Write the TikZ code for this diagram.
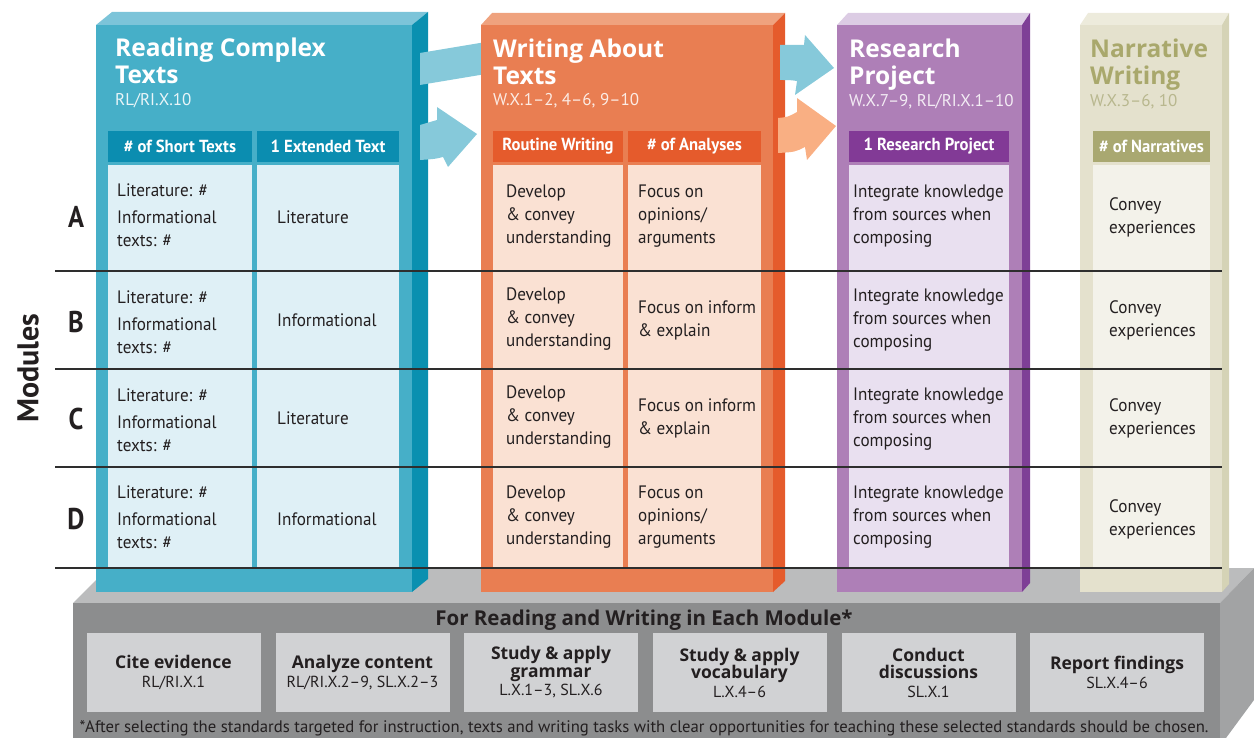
\documentclass[tikz,border=0pt]{standalone}
\usepackage{fontspec}
\setmainfont{PT Sans}
\newfontfamily\condf[FakeStretch=0.95]{PT Sans}
\newfontfamily\letf[FakeStretch=0.88]{PT Sans}
\newfontfamily\wide{Open Sans}
\definecolor{txt}{HTML}{231F20}
\definecolor{tealF}{HTML}{46AFC8}
\definecolor{tealT}{HTML}{7CC4D9}
\definecolor{tealS}{HTML}{0A90B0}
\definecolor{tealH}{HTML}{0B8DB0}
\definecolor{tealB}{HTML}{DFF0F6}
\definecolor{tealA}{HTML}{86C9DA}
\definecolor{orF}{HTML}{E97E52}
\definecolor{orT}{HTML}{EFA27E}
\definecolor{orS}{HTML}{E55B2C}
\definecolor{orH}{HTML}{E55B2C}
\definecolor{orB}{HTML}{FAE1D3}
\definecolor{orA}{HTML}{F9AF83}
\definecolor{puF}{HTML}{AE7FB7}
\definecolor{puT}{HTML}{DCCCE4}
\definecolor{puS}{HTML}{7E3F96}
\definecolor{puH}{HTML}{823A96}
\definecolor{puB}{HTML}{E9E0F0}
\definecolor{beF}{HTML}{E4E1CD}
\definecolor{beT}{HTML}{EDEBDC}
\definecolor{beS}{HTML}{D5D3B6}
\definecolor{beH}{HTML}{A9A871}
\definecolor{beB}{HTML}{F3F2EA}
\definecolor{beTx}{HTML}{A9A86C}
\definecolor{beSub}{HTML}{B8B78E}
\definecolor{baseT}{HTML}{BBBCBD}
\definecolor{baseF}{HTML}{8C8D8E}
\definecolor{baseS}{HTML}{A2A3A4}
\definecolor{boxg}{HTML}{D1D2D4}
\tikzset{
  hdr/.style={text=white, font=\condf\bfseries\fontsize{17.5}{20}\selectfont, inner sep=0pt, minimum height=31pt},
  cell/.style={anchor=west, align=left, text=txt, font=\condf\fontsize{18}{23}\selectfont, inner sep=0pt},
  ttl/.style={anchor=north west, align=left, font=\wide\bfseries\fontsize{24.5}{27}\selectfont, inner sep=0pt},
  subt/.style={anchor=west, font=\fontsize{17}{18}\selectfont, inner sep=0pt},
  rowl/.style={font=\letf\bfseries\fontsize{30}{30}\selectfont, text=txt, inner sep=0pt},
  sepline/.style={line width=1.6pt, draw=black!82},
  basebox/.style={fill=boxg, minimum width=174pt, minimum height=79pt, inner sep=0pt},
  boxt/.style={align=center, text=txt, inner sep=0pt, font=\wide\bfseries\fontsize{17.5}{17.5}\selectfont},
}
\newcommand\stdf{\normalfont\fontsize{16}{19}\selectfont}
\begin{document}
\begin{tikzpicture}[x=1pt,y=-1pt]
\useasboundingbox (0,0) rectangle (1254,738);
% ---------- base ----------
\fill[baseT] (73,603) -- (108,568) -- (1254,568) -- (1220,603) -- cycle;
\fill[baseF] (73,603) rectangle (1220,738);
\fill[baseS] (1220,603) -- (1254,568) -- (1254,700) -- (1226,738) -- (1220,738) -- cycle;
\node[font=\wide\bfseries\fontsize{20.5}{24}\selectfont, text=txt] (basettl) at (644,620) {For Reading and Writing in Each Module*};
\node[basebox] (b1) at (173.5,672.5) {};
\node[basebox] (b2) at (362.5,672.5) {};
\node[basebox] (b3) at (551,672.5) {};
\node[basebox] (b4) at (739.5,672.5) {};
\node[basebox] (b5) at (928.5,672.5) {};
\node[basebox] (b6) at (1117,672.5) {};
\node[boxt] (bt1) at (b1) {Cite evidence\\[1pt]\stdf RL/RI.X.1};
\node[boxt] (bt2) at (b2) {Analyze content\\[1pt]\stdf RL/RI.X.2–9, SL.X.2–3};
\node[boxt] (bt3) at (b3) {Study \& apply\\grammar\\[1pt]\stdf L.X.1–3, SL.X.6};
\node[boxt] (bt4) at (b4) {Study \& apply\\vocabulary\\[1pt]\stdf L.X.4–6};
\node[boxt] (bt5) at (b5) {Conduct\\discussions\\[1pt]\stdf SL.X.1};
\node[boxt] (bt6) at (b6) {Report findings\\[1pt]\stdf SL.X.4–6};
\node[font=\fontsize{16.7}{18}\selectfont, text=txt, inner sep=0pt] (foot) at (644,728) {*After selecting the standards targeted for instruction, texts and writing tasks with clear opportunities for teaching these selected standards should be chosen.};
% ---------- teal column ----------
\fill[tealT] (96,25) -- (112,12) -- (428,12) -- (412,25) -- cycle;
\fill[tealF] (96,25) rectangle (412,592);
\fill[tealS] (412,25) -- (428,12) -- (428,579) -- (412,592) -- cycle;
\node[hdr, fill=tealH, minimum width=144pt] (th1) at (180,146.5) {\# of Short Texts};
\node[hdr, fill=tealH, minimum width=142pt] (th2) at (328,146.5) {1 Extended Text};
\fill[tealB] (108,165) rectangle (252,567);
\fill[tealB] (257,165) rectangle (399,567);
\node[ttl, text=white] (tt) at (115,38) {Reading Complex\\Texts};
\node[subt, text=white!88!tealF] (ts) at (115,101) {RL/RI.X.10};
% teal arrows
\fill[tealA] (420,53) -- (486,42) -- (486,74) -- (420,85) -- cycle;
\fill[tealA] (420,125) .. controls (428,123) .. (437,120) -- (437,107) -- (477,134) -- (448,167) -- (443,157) .. controls (435,159) .. (420,160) -- cycle;
% ---------- orange column ----------
\fill[orT] (481,25) -- (492,13) -- (785,13) -- (773,25) -- cycle;
\fill[orF] (481,25) rectangle (773,592);
\fill[orS] (773,25) -- (785,13) -- (785,581) -- (773,592) -- cycle;
\node[hdr, fill=orH, minimum width=130pt] (oh1) at (558,146.5) {Routine Writing};
\node[hdr, fill=orH, minimum width=133pt] (oh2) at (694.5,146.5) {\# of Analyses};
\fill[orB] (493,165) rectangle (623,567);
\fill[orB] (628,165) rectangle (761,567);
\node[ttl, text=white] (ot) at (493,39) {Writing About\\Texts};
\node[subt, text=white!85!orF] (os) at (493,101) {W.X.1–2, 4–6, 9–10};
% arrows to purple
\fill[tealA] (780,45) -- (804,45) -- (805,35) -- (834,68) -- (795,95) -- (797,81) .. controls (790,80) .. (780,80) -- cycle;
\fill[orA] (778,118) .. controls (788,117) .. (797,112) -- (797,98) -- (836,126) -- (807,160) -- (805,147) .. controls (795,152) .. (778,153) -- cycle;
% ---------- purple column ----------
\fill[puT] (837,25) -- (848,13) -- (1030,13) -- (1022,25) -- cycle;
\fill[puF] (837,25) rectangle (1022,592);
\fill[puS] (1022,25) -- (1030,13) -- (1030,583) -- (1022,592) -- cycle;
\node[hdr, fill=puH, minimum width=160pt] (ph) at (929,146.5) {1 Research Project};
\fill[puB] (849,165) rectangle (1009,567);
\node[ttl, text=white] (pt) at (849,39) {Research\\Project};
\node[subt, text=white!85!puF] (ps) at (849,102) {W.X.7–9, RL/RI.X.1–10};
% ---------- beige column ----------
\fill[beT] (1080,25) -- (1088,13) -- (1229,13) -- (1222,25) -- cycle;
\fill[beF] (1080,25) rectangle (1222,592);
\fill[beS] (1222,25) -- (1229,13) -- (1229,584) -- (1222,592) -- cycle;
\node[hdr, fill=beH, minimum width=117pt] (bh) at (1151.5,146.5) {\# of Narratives};
\fill[beB] (1093,165) rectangle (1210,567);
\node[ttl, text=beTx] (bt) at (1090,39) {Narrative\\Writing};
\node[subt, text=beSub] (bs) at (1090,102) {W.X.3–6, 10};
% ---------- row separators ----------
\draw[sepline] (55,271) -- (1222,271);
\draw[sepline] (55,369) -- (1222,369);
\draw[sepline] (55,467) -- (1222,467);
\draw[sepline] (55,568) -- (1222,568);
% ---------- row labels ----------
\node[rowl] (ra) at (76,217) {A};
\node[rowl] (rb) at (76,322) {B};
\node[rowl] (rc) at (76,419) {C};
\node[rowl] (rd) at (76,519) {D};
\node[rowl, rotate=90, font=\bfseries\fontsize{30}{30}\selectfont] (mod) at (28,368) {Modules};
% ---------- cell texts ----------
\node[cell] (c11) at (117,215) {Literature: \#\\[4pt]Informational\\texts: \#};
\node[cell] (c12) at (117,322) {Literature: \#\\[4pt]Informational\\texts: \#};
\node[cell] (c13) at (117,420) {Literature: \#\\[4pt]Informational\\texts: \#};
\node[cell] (c14) at (117,517) {Literature: \#\\[4pt]Informational\\texts: \#};
\node[cell] (c21) at (277,217) {Literature};
\node[cell] (c22) at (277,320) {Informational};
\node[cell] (c23) at (277,418) {Literature};
\node[cell] (c24) at (277,519) {Informational};
\node[cell] (c31) at (506,216) {Develop\\\& convey\\understanding};
\node[cell] (c32) at (506,319) {Develop\\\& convey\\understanding};
\node[cell] (c33) at (506,417) {Develop\\\& convey\\understanding};
\node[cell] (c34) at (506,517) {Develop\\\& convey\\understanding};
\node[cell] (c41) at (638,216) {Focus on\\opinions/\\arguments};
\node[cell] (c42) at (638,320) {Focus on inform\\\& explain};
\node[cell] (c43) at (638,418) {Focus on inform\\\& explain};
\node[cell] (c44) at (638,517) {Focus on\\opinions/\\arguments};
\node[cell] (c51) at (853,216) {Integrate knowledge\\from sources when\\composing};
\node[cell] (c52) at (853,320) {Integrate knowledge\\from sources when\\composing};
\node[cell] (c53) at (853,419) {Integrate knowledge\\from sources when\\composing};
\node[cell] (c54) at (853,517) {Integrate knowledge\\from sources when\\composing};
\node[cell] (c61) at (1109,217) {Convey\\experiences};
\node[cell] (c62) at (1109,320) {Convey\\experiences};
\node[cell] (c63) at (1109,418) {Convey\\experiences};
\node[cell] (c64) at (1109,519) {Convey\\experiences};
\end{tikzpicture}
\end{document}
